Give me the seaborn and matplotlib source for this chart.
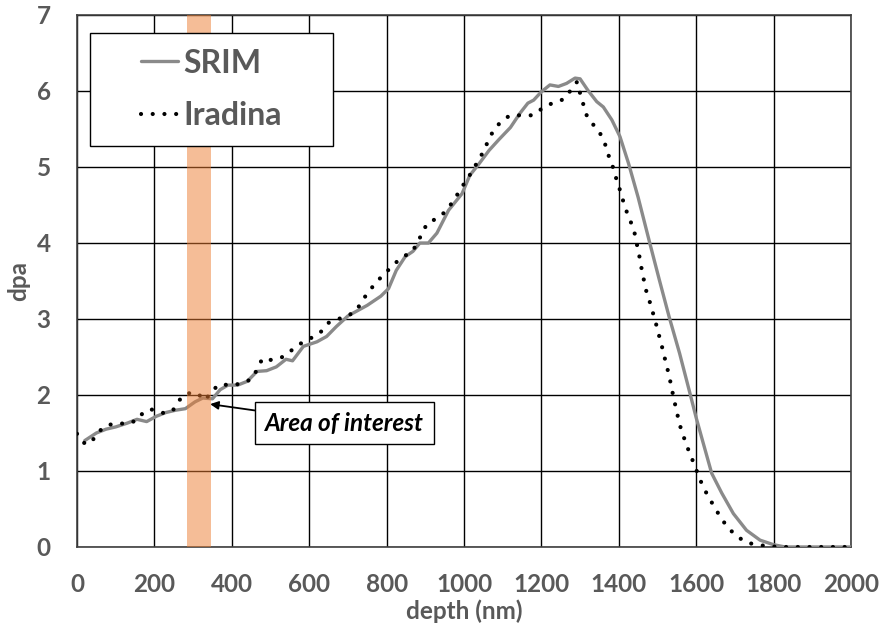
import numpy as np
import pandas as pd
import matplotlib
matplotlib.use("Agg")
import matplotlib.pyplot as plt
from matplotlib.patches import Rectangle
from matplotlib.lines import Line2D
import seaborn as sns

# ---------------- data ----------------
srim_depth = [20, 50, 75, 100, 130, 155, 180, 205, 230, 255,
              280, 305, 325, 350, 370, 390, 415, 440, 465, 490,
              515, 540, 557, 585, 620, 645, 670, 700, 750, 785,
              805, 825, 848, 868, 886, 908, 930, 960, 995, 1015,
              1040, 1065, 1090, 1120, 1145, 1165, 1180, 1200, 1222, 1244,
              1265, 1287, 1300, 1320, 1343, 1360, 1382, 1403, 1425, 1450,
              1480, 1505, 1530, 1557, 1584, 1600, 1618, 1640, 1666, 1696,
              1730, 1765, 1800, 1830, 1900, 2000]
srim_dpa = [1.40, 1.50, 1.55, 1.58, 1.63, 1.68, 1.65, 1.72, 1.77, 1.80,
            1.82, 1.91, 1.96, 1.95, 2.07, 2.13, 2.13, 2.18, 2.31, 2.32,
            2.37, 2.47, 2.45, 2.64, 2.70, 2.77, 2.90, 3.04, 3.18, 3.30,
            3.40, 3.64, 3.82, 3.89, 4.00, 4.00, 4.13, 4.43, 4.65, 4.89,
            5.05, 5.22, 5.36, 5.52, 5.71, 5.84, 5.88, 5.99, 6.08, 6.06,
            6.10, 6.17, 6.16, 6.01, 5.86, 5.79, 5.62, 5.40, 5.05, 4.60,
            4.00, 3.51, 3.03, 2.55, 2.02, 1.70, 1.37, 0.97, 0.71, 0.44,
            0.22, 0.09, 0.03, 0.0, 0.0, 0.0]

ira_depth = [0, 18, 35, 51, 72, 100, 130, 156, 174, 196,
             225, 247, 264, 283, 309, 331, 348, 368, 397, 426,
             451, 466, 479, 503, 531, 555, 579, 605, 630, 650,
             675, 700, 723, 738, 757, 774, 796, 817, 839, 865,
             881, 893, 907, 934, 955, 972, 988, 1005, 1021, 1035,
             1050, 1063, 1076, 1096, 1119, 1148, 1177, 1202, 1228, 1257,
             1276, 1292, 1300, 1308, 1317, 1332, 1351, 1364, 1373, 1384,
             1392, 1401, 1409, 1419, 1430, 1440, 1446, 1452, 1457, 1463,
             1469, 1478, 1486, 1495, 1502, 1510, 1517, 1524, 1531, 1537,
             1543, 1550, 1556, 1565, 1575, 1586, 1597, 1608, 1620, 1634,
             1649, 1663, 1681, 1703, 1729, 1756, 1786, 1820, 1860, 1900,
             1950, 2000]
ira_dpa = [1.49, 1.37, 1.36, 1.49, 1.59, 1.63, 1.62, 1.67, 1.79, 1.81,
           1.76, 1.79, 1.93, 2.02, 2.03, 1.93, 2.05, 2.14, 2.13, 2.15,
           2.21, 2.34, 2.48, 2.46, 2.50, 2.59, 2.68, 2.75, 2.83, 2.95,
           3.00, 3.04, 3.12, 3.25, 3.38, 3.49, 3.60, 3.71, 3.81, 3.88,
           4.01, 4.15, 4.27, 4.33, 4.43, 4.55, 4.68, 4.82, 4.94, 5.07,
           5.20, 5.35, 5.48, 5.60, 5.68, 5.68, 5.68, 5.77, 5.84, 5.89,
           6.01, 6.12, 5.97, 5.83, 5.68, 5.57, 5.45, 5.31, 5.16, 5.01,
           4.87, 4.73, 4.59, 4.43, 4.29, 4.15, 4.00, 3.86, 3.71, 3.56,
           3.40, 3.26, 3.12, 2.96, 2.82, 2.67, 2.52, 2.38, 2.23, 2.08,
           1.93, 1.78, 1.63, 1.49, 1.34, 1.20, 1.06, 0.91, 0.77, 0.64,
           0.51, 0.39, 0.26, 0.15, 0.06, 0.03, 0.01, 0.0, 0.0, 0.0,
           0.0, 0.0]

series_names = ["SRIM", "Iradina"]
x_ticks = [0, 200, 400, 600, 800, 1000, 1200, 1400, 1600, 1800, 2000]
y_ticks = [0, 1, 2, 3, 4, 5, 6, 7]
area_start, area_end = 285, 345
annot_text = "Area of interest"
annot_point = (344, 1.88)
annot_text_pos = (691, 1.63)

# ---------------- style ----------------
sns.set_style("white")
plt.rcParams["font.family"] = ["Lato", "DejaVu Sans"]
plt.rcParams["font.weight"] = "bold"
TXT = "#595959"
DOTS = (0, (0.01, 2.8))

fig = plt.figure(figsize=(8.8, 6.34), dpi=100)
ax = fig.add_axes([77 / 880, 87 / 634, 774 / 880, 532 / 634])

srim_df = pd.DataFrame({"depth": srim_depth, "dpa": srim_dpa})
ira_df = pd.DataFrame({"depth": ira_depth, "dpa": ira_dpa})

sns.lineplot(data=srim_df, x="depth", y="dpa", ax=ax, color="#8a8a8a",
             linewidth=2.4, solid_joinstyle="round", zorder=3, sort=False)
sns.lineplot(data=ira_df, x="depth", y="dpa", ax=ax, color="black",
             linewidth=3.0, linestyle=DOTS,
             dash_capstyle="round", zorder=4, sort=False)

# highlighted area
ax.axvspan(area_start, area_end, color="#ED7D31", alpha=0.5, lw=0, zorder=5)

ax.set_xlim(0, 2000)
ax.set_ylim(0, 7)
ax.set_xticks(x_ticks)
ax.set_yticks(y_ticks)
ax.grid(True, color="black", linewidth=1.0)
ax.set_axisbelow(True)
for s in ax.spines.values():
    s.set_color("#404040")
    s.set_linewidth(1.2)
ax.tick_params(axis="both", length=0, labelsize=17.5, labelcolor=TXT)
ax.tick_params(axis="x", pad=19)
ax.tick_params(axis="y", pad=19)
for lab in ax.get_xticklabels() + ax.get_yticklabels():
    lab.set_fontweight("bold")

ax.set_xlabel("depth (nm)", fontsize=17.5, color=TXT, fontweight="bold")
ax.set_ylabel("dpa", fontsize=17.5, color=TXT, fontweight="bold")
ax.xaxis.set_label_coords(0.5, -0.098)
ax.yaxis.set_label_coords(-0.075, 0.5)
ax.yaxis.label.set_va("center")

# legend box
box = Rectangle((90 / 880, 1 - 146 / 634), 243 / 880, 113 / 634,
                transform=fig.transFigure, facecolor="white",
                edgecolor="black", linewidth=1.0, zorder=10)
fig.patches.append(box)
handles = [
    Line2D([], [], color="#8a8a8a", linewidth=2.4),
    Line2D([], [], color="black", linewidth=3.0, linestyle=DOTS,
           dash_capstyle="round"),
]
leg = fig.legend(handles, series_names, loc="center",
                 bbox_to_anchor=((90 + 243 / 2) / 880, 1 - (33 + 113 / 2) / 634),
                 frameon=False, prop={"size": 23, "weight": "bold"},
                 handlelength=1.15, handletextpad=0.15, labelspacing=0.75,
                 borderpad=0)
for t in leg.get_texts():
    t.set_color(TXT)
leg.set_zorder(11)

# annotation
ax.annotate(annot_text, xy=annot_point, xytext=annot_text_pos,
            textcoords="data", ha="center", va="center",
            fontsize=17.5, fontweight="bold", fontstyle="italic", color="black",
            bbox=dict(boxstyle="square,pad=0.4", fc="white", ec="black", lw=1.0),
            arrowprops=dict(arrowstyle="-|>", color="black", lw=1.3,
                            mutation_scale=12, shrinkA=0, shrinkB=0),
            zorder=12)

fig.savefig("out.png", dpi=100)
